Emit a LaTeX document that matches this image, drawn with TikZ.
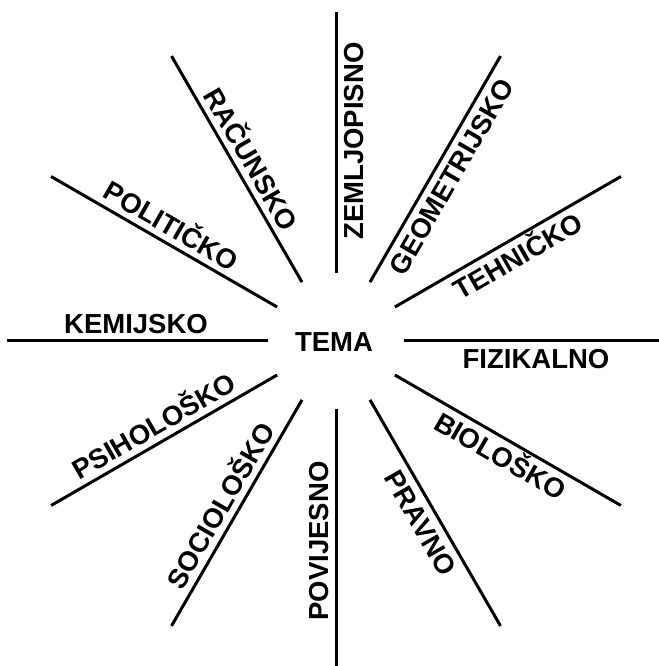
\documentclass[tikz,border=0pt]{standalone}
\usepackage{fontspec}
\setmainfont{Liberation Sans}
\usetikzlibrary{calc}
\tikzset{
  spoke/.style={line width=3pt},
  spokelabel/.style={font=\bfseries\fontsize{27.5}{30}\selectfont,
    inner sep=0pt, text height=19.7pt, text depth=0pt}
}

\begin{document}
\begin{tikzpicture}[x=1pt,y=1pt]
  \useasboundingbox (0,0) rectangle (658,666);
  \coordinate (hub) at (336,325);
  \node[spokelabel] (tema) at (334,324) {TEMA};
  % twelve spokes, label on the clockwise side of each
  \foreach \a/\r/\t/\n in {0/0/FIZIKALNO/fiz,30/30/TEHNIČKO/teh,
      60/60/GEOMETRIJSKO/geo,90/90/ZEMLJOPISNO/zem,120/-60/RAČUNSKO/rac,
      150/-30/POLITIČKO/pol,180/0/KEMIJSKO/kem,210/30/PSIHOLOŠKO/psi,
      240/60/SOCIOLOŠKO/soc,270/90/POVIJESNO/pov,300/-60/PRAVNO/pra,
      330/-30/BIOLOŠKO/bio} {
    \coordinate (\n-in) at ($(hub)+(\a:68)$);
    \coordinate (\n-out) at ($(hub)+(\a:329)$);
    \draw[spoke] (\n-in) -- (\n-out);
    \node[spokelabel,rotate=\r] (\n) at ($(hub)+(\a:200)+(\a-90:17.5)$) {\t};
  }
\end{tikzpicture}
\end{document}
